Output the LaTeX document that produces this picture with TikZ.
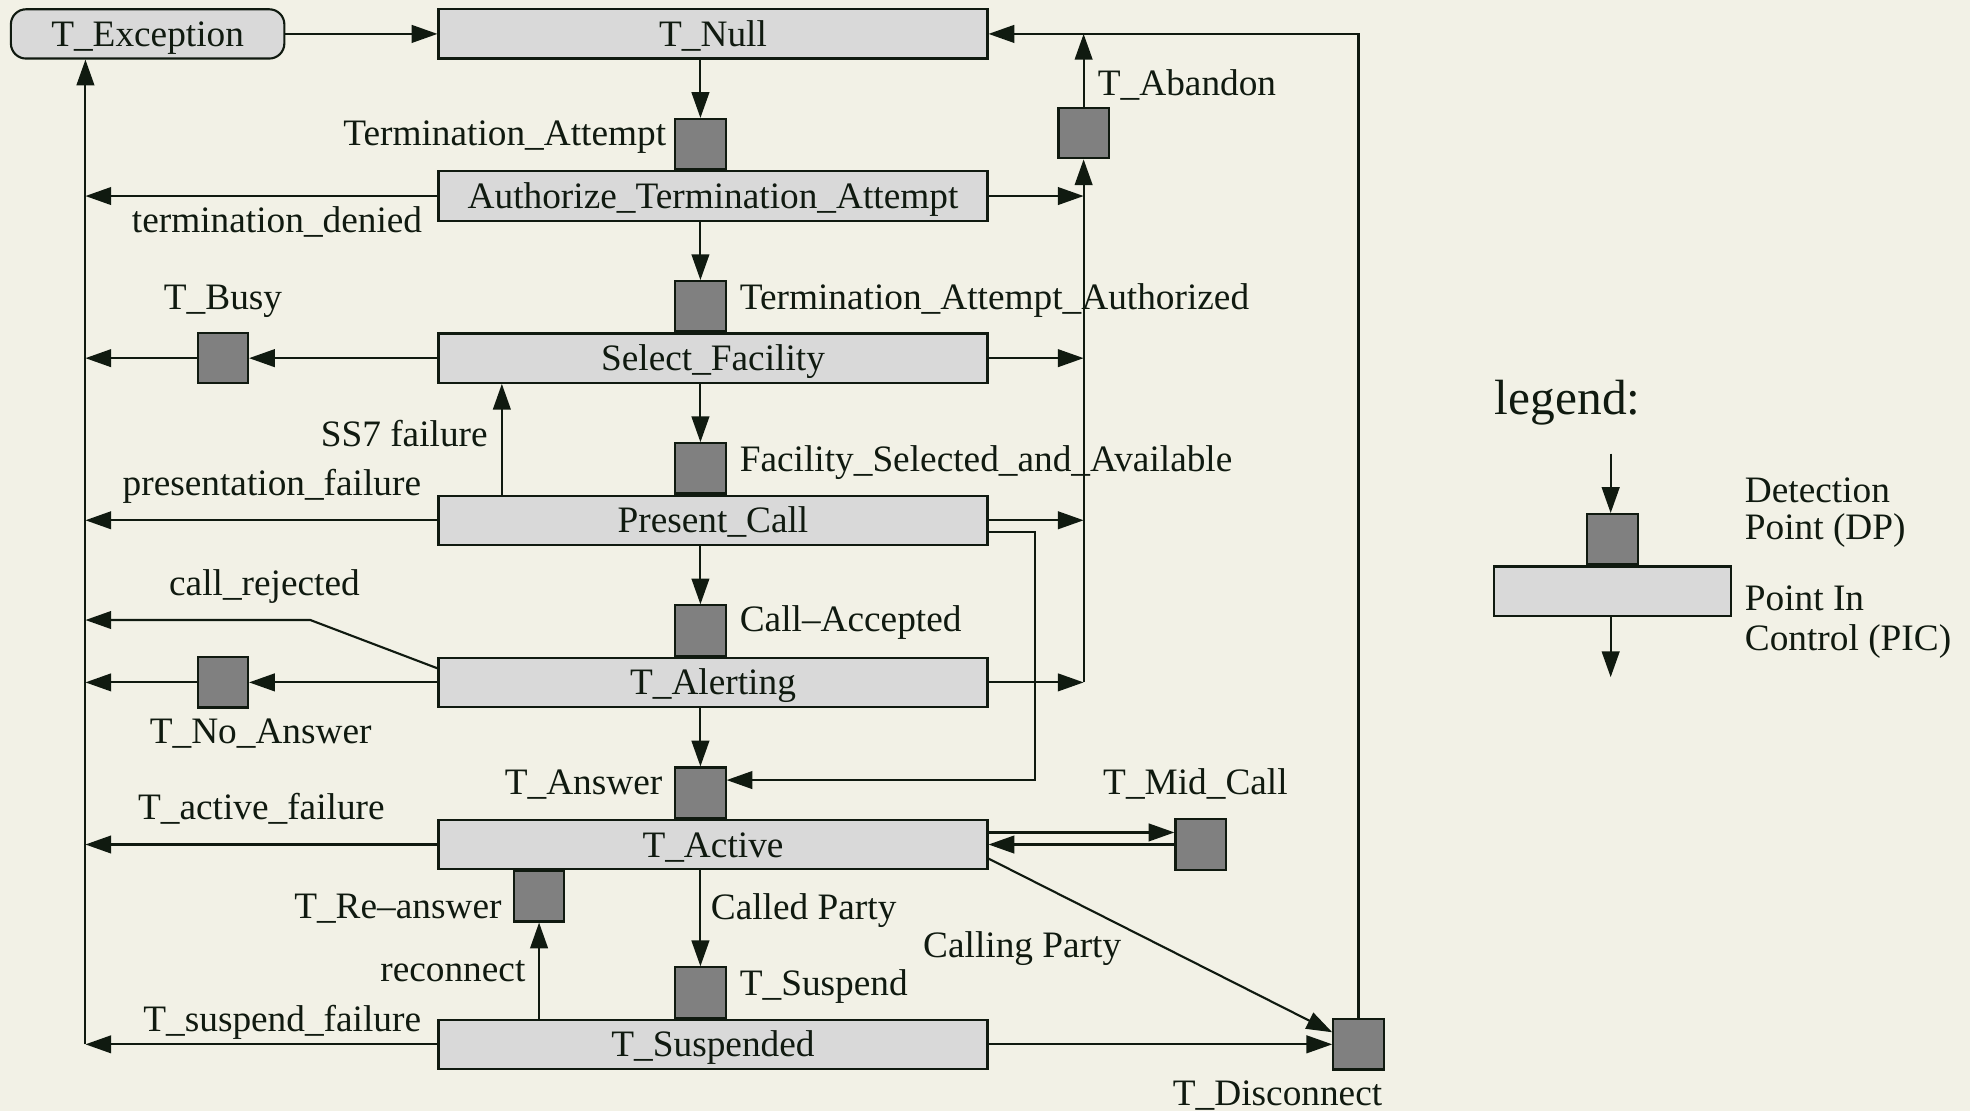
\documentclass[tikz,border=0pt]{standalone}
\usepackage{fontspec}
\setmainfont{Liberation Serif}
\usetikzlibrary{arrows.meta}
\usetikzlibrary{positioning}
\definecolor{paper}{RGB}{242,241,230}
\definecolor{ink}{RGB}{16,26,16}
\definecolor{picgray}{RGB}{217,217,217}
\definecolor{dpgray}{RGB}{128,128,128}
\tikzset{>={Triangle[length=7.3pt,width=5pt]}}

\begin{document}
\begin{tikzpicture}[x=0.0125cm,y=-0.0125cm,color=ink,line width=0.6pt,
		font=\fontsize{10.56}{12.5}\selectfont,
		picbox/.style={draw, fill=picgray, inner sep=0pt, minimum width=5.46cm, minimum height=0.49cm, text height=8.7pt, text depth=1.6pt},
		dpbox/.style={draw, fill=dpgray, inner sep=0pt, minimum size=0.5cm},
		lbl/.style={inner sep=0pt},
		node distance=1cm, on grid]
		\path[use as bounding box, fill=paper] (0,0) rectangle (1568,884);
		\coordinate (col) at (557.5,0);
		\coordinate (lft) at (68,0);
		% points in control
		\node[picbox, rounded corners=0.15cm, minimum width=2.72cm] (q0) at (117.5,27) {T\_Exception};
		\node[picbox] (p0) at (567.5,27) {T\_Null};
		\node[picbox] (p1) [below=1.6125cm of p0] {Authorize\_Termination\_Attempt};
		\node[picbox] (p2) [below=1.6125cm of p1] {Select\_Facility};
		\node[picbox] (p3) [below=1.6125cm of p2] {Present\_Call};
		\node[picbox] (p4) [below=1.6125cm of p3] {T\_Alerting};
		\node[picbox] (p5) [below=1.6125cm of p4] {T\_Active};
		\node[picbox] (p6) [below=1.9875cm of p5] {T\_Suspended};
		% detection points
		\node[dpbox, anchor=south] (d1) at (col |- p1.north) {};
		\node[dpbox, anchor=south] (d2) at (col |- p2.north) {};
		\node[dpbox, anchor=south] (d3) at (col |- p3.north) {};
		\node[dpbox, anchor=south] (d4) at (col |- p4.north) {};
		\node[dpbox, anchor=south] (d5) at (col |- p5.north) {};
		\node[dpbox, anchor=south] (d6) at (col |- p6.north) {};
		\node[dpbox] (d7) at (862.5,106) {};
		\node[dpbox] (d8) [left=4.875cm of p2] {};
		\node[dpbox] (d9) [left=4.875cm of p4] {};
		\node[dpbox] (d10) [right=4.85cm of p5] {};
		\node[dpbox, anchor=north] (d11) at ([xshift=-1.73cm]p5.south) {};
		\node[dpbox] (d12) [right=6.42cm of p6] {};
		\coordinate (c1) at (247,493.5);
		\path[->]
			(q0) edge (p0)
			(p0.south -| col) edge (d1.north)
			(p1.south -| col) edge (d2.north)
			(p2.south -| col) edge (d3.north)
			(p3.south -| col) edge (d4.north)
			(p4.south -| col) edge (d5.north)
			(p5.south -| col) edge (d6.north)
			(p1.west) edge (p1.west -| lft)
			(p2.west) edge (d8)
			(d8) edge (d8.west -| lft)
			(p3.west) edge (p3.west -| lft)
			(p4.west) edge (d9)
			(d9) edge (d9.west -| lft)
			(p5.west) edge (p5.west -| lft)
			(p6.west) edge (p6.west -| lft)
			(p1.east) edge (p1.east -| d7)
			(p2.east) edge (p2.east -| d7)
			(p3.east) edge (p3.east -| d7)
			(p4.east) edge (p4.east -| d7)
			(p4.east -| d7) edge (d7)
			(d7) edge (d7 |- p0.east)
			(p6) edge (d12)
			([xshift=-2.1cm]p3.north) edge ([xshift=-2.1cm]p2.south)
			(p6.north -| d11) edge (d11)
			([yshift=0.12cm]p5.east) edge ([yshift=0.12cm]d10.west)
			(d10) edge (p5)
			([yshift=-0.14cm]p5.east) edge ([yshift=0.12cm]d12.west);
		\draw[->] (d12) |- (p0);
		\draw[->] ([yshift=-0.12cm]p3.east) -- ++(37,0) |- ([yshift=0.125cm]d5.east);
		\draw[->] ([yshift=0.14cm]p4.west) -- (c1) -- (c1 -| lft);
		\draw[->] (p6.west -| lft) -- (lft |- q0.south);
		% labels
		\node[lbl, anchor=base east] (t1) at (531,116) {Termination\_Attempt};
		\node[lbl, anchor=base] (t2) at (220.5,185) {termination\_denied};
		\node[lbl, anchor=base west] (t3) at (873,76) {T\_Abandon};
		\node[lbl, anchor=base west] (t4) at (588,246) {Termination\_Attempt\_Authorized};
		\node[lbl, anchor=base] (t5) at (177.5,246) {T\_Busy};
		\node[lbl, anchor=base east] (t6) at (389,355) {SS7 failure};
		\node[lbl, anchor=base east] (t7) at (336,394) {presentation\_failure};
		\node[lbl, anchor=base west] (t8) at (588,375) {Facility\_Selected\_and\_Available};
		\node[lbl, anchor=base] (t9) at (210.5,474) {call\_rejected};
		\node[lbl, anchor=base west] (t10) at (588,503) {Call--Accepted};
		\node[lbl, anchor=base] (t11) at (207.5,592) {T\_No\_Answer};
		\node[lbl, anchor=base east] (t12) at (528,632) {T\_Answer};
		\node[lbl, anchor=base] (t13) at (951.5,632) {T\_Mid\_Call};
		\node[lbl, anchor=base] (t14) at (208,652) {T\_active\_failure};
		\node[lbl, anchor=base east] (t15) at (400,731) {T\_Re--answer};
		\node[lbl, anchor=base west] (t16) at (565,732) {Called Party};
		\node[lbl, anchor=base west] (t17) at (734,762) {Calling Party};
		\node[lbl, anchor=base east] (t18) at (419,781) {reconnect};
		\node[lbl, anchor=base west] (t19) at (588,792) {T\_Suspend};
		\node[lbl, anchor=base east] (t20) at (336,821) {T\_suspend\_failure};
		\node[lbl, anchor=base east] (t21) at (1101,880) {T\_Disconnect};
		% legend
		\node[lbl, anchor=base west, font=\fontsize{14}{16}\selectfont] (lg) at (1189,330) {legend:};
		\node[picbox, minimum width=2.3625cm] (lg1) at (1283.5,470.5) {};
		\node[dpbox, anchor=south] (lg0) at (lg1.north) {};
		\coordinate (lg2) at (1282,361);
		\coordinate (lg3) at (1282,539);
		\draw[->] (lg2) -- (lg0.north -| lg2);
		\draw[->] (lg1.south -| lg3) -- (lg3);
		\node[lbl, anchor=west, align=left, font=\fontsize{10.56}{10.3}\selectfont] (lg4) at (1388,408) {Detection\\Point (DP)};
		\node[lbl, anchor=west, align=left, font=\fontsize{10.56}{11.3}\selectfont] (lg5) at (1388,495.5) {Point In\\Control (PIC)};
	\end{tikzpicture}
\end{document}
